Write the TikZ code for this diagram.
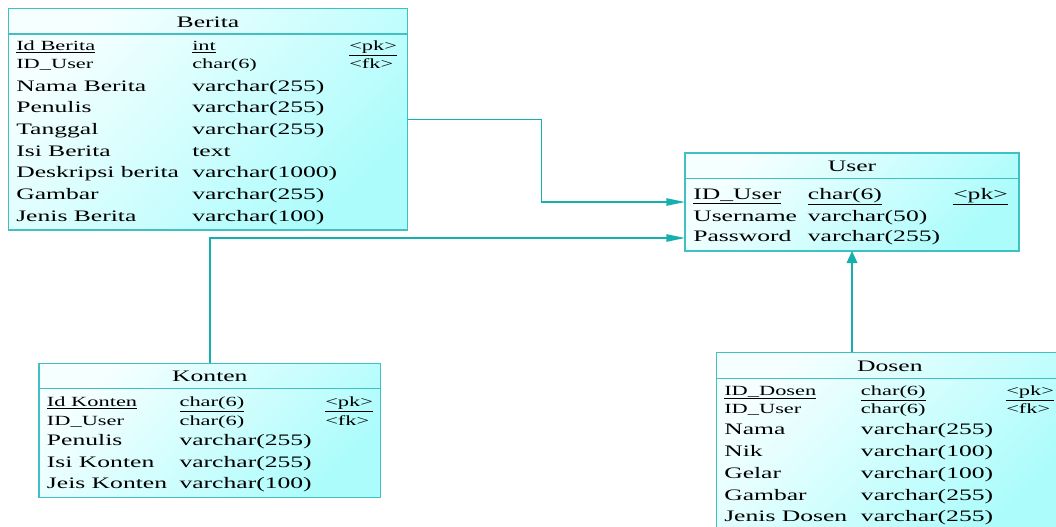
\documentclass[tikz,border=0pt]{standalone}
\usepackage{fontspec}
\setmainfont{Liberation Serif}[FakeStretch=1.6]
\usetikzlibrary{positioning,fit,calc,arrows.meta}
\definecolor{erline}{RGB}{20,176,176}
\definecolor{erbox}{RGB}{64,192,192}
\definecolor{erlight}{RGB}{246,255,255}
\definecolor{erdark}{RGB}{172,252,252}
\newlength\pxu \setlength\pxu{0.75pt}
\newcommand\field[5]{\makebox[#1\pxu][l]{#3}\makebox[#2\pxu][l]{#4}#5}
\tikzstyle{entity} = [draw=erbox, line width=1pt, top color=erlight, bottom color=erdark, shading angle=45, inner sep=0pt, outer sep=0pt]
\tikzstyle{etitle} = [anchor=base, inner sep=0pt, font=\fontsize{12}{14}\selectfont]
\tikzstyle{bigrow} = [anchor=base west, inner sep=0pt, font=\fontsize{12}{14}\selectfont]
\tikzstyle{keyrow} = [anchor=base west, inner sep=0pt, font=\fontsize{10.5}{12}\selectfont]
\tikzstyle{fk} = [draw=erline, line width=1pt, -{Triangle[length=14pt,width=5.5pt]}]
\begin{document}
\begin{tikzpicture}[x=0.75pt,y=-0.75pt]
		\useasboundingbox (0,0) rectangle (1056,526);
		\clip (0,0) rectangle (1056,526);
		% Berita
		\node (berita) [entity, fit={(8.5,8.5) (407.5,230)}] {};
		\draw [erbox, line width=1pt] ($(berita.north west)+(0,25.5)$) -- ($(berita.north east)+(0,25.5)$);
		\node (berita-t) [etitle] at ($(berita.north)+(0,18.5)$) {Berita};
		\node (berita-1) [keyrow] at (16,50) {\field{176}{157}{\underline{Id Berita}}{\underline{int}}{\underline{<pk>}}};
		\node (berita-2) [keyrow] at (16,68) {\field{176}{157}{ID\_User}{char(6)}{<fk>}};
		\node (berita-3) [bigrow] at (16,91) {\field{176}{157}{Nama Berita}{varchar(255)}{}};
		\node (berita-4) [bigrow] at (16,112.7) {\field{176}{157}{Penulis}{varchar(255)}{}};
		\node (berita-5) [bigrow] at (16,134.4) {\field{176}{157}{Tanggal}{varchar(255)}{}};
		\node (berita-6) [bigrow] at (16,156.1) {\field{176}{157}{Isi Berita}{text}{}};
		\node (berita-7) [bigrow] at (16,177.8) {\field{176}{157}{Deskripsi berita}{varchar(1000)}{}};
		\node (berita-8) [bigrow] at (16,199.5) {\field{176}{157}{Gambar}{varchar(255)}{}};
		\node (berita-9) [bigrow] at (16,221.2) {\field{176}{157}{Jenis Berita}{varchar(100)}{}};
		% User
		\node (user) [entity, fit={(685,153) (1019,251)}] {};
		\draw [erbox, line width=1pt] ($(user.north west)+(0,25.5)$) -- ($(user.north east)+(0,25.5)$);
		\node (user-t) [etitle] at ($(user.north)+(0,18.7)$) {User};
		\node (user-1) [bigrow] at (693,199.3) {\field{114.7}{145.3}{\underline{ID\_User}}{\underline{char(6)}}{\underline{<pk>}}};
		\node (user-2) [bigrow] at (693,221) {\field{114.7}{145.3}{Username}{varchar(50)}{}};
		\node (user-3) [bigrow] at (693,241.7) {\field{114.7}{145.3}{Password}{varchar(255)}{}};
		% Konten
		\node (konten) [entity, fit={(39,363.3) (380.7,497.7)}] {};
		\draw [erbox, line width=1pt] ($(konten.north west)+(0,25.5)$) -- ($(konten.north east)+(0,25.5)$);
		\node (konten-t) [etitle] at ($(konten.north)+(0,18.4)$) {Konten};
		\node (konten-1) [keyrow] at (46.7,406.7) {\field{132.6}{145.7}{\underline{Id Konten}}{\underline{char(6)}}{\underline{<pk>}}};
		\node (konten-2) [keyrow] at (46.7,425.2) {\field{132.6}{145.7}{ID\_User}{char(6)}{<fk>}};
		\node (konten-3) [bigrow] at (46.7,445.7) {\field{132.6}{145.7}{Penulis}{varchar(255)}{}};
		\node (konten-4) [bigrow] at (46.7,467.2) {\field{132.6}{145.7}{Isi Konten}{varchar(255)}{}};
		\node (konten-5) [bigrow] at (46.7,488.7) {\field{132.6}{145.7}{Jeis Konten}{varchar(100)}{}};
		% Dosen
		\node (dosen) [entity, fit={(716.7,352.3) (1063,532)}] {};
		\draw [erbox, line width=1pt] ($(dosen.north west)+(0,26.5)$) -- ($(dosen.north east)+(0,26.5)$);
		\node (dosen-t) [etitle] at ($(dosen.north)+(0,18.7)$) {Dosen};
		\node (dosen-1) [keyrow] at (724,395) {\field{136.7}{145.3}{\underline{ID\_Dosen}}{\underline{char(6)}}{\underline{<pk>}}};
		\node (dosen-2) [keyrow] at (724,413.3) {\field{136.7}{145.3}{ID\_User}{char(6)}{<fk>}};
		\node (dosen-3) [bigrow] at (724,434.3) {\field{136.7}{145.3}{Nama}{varchar(255)}{}};
		\node (dosen-4) [bigrow] at (724,456.7) {\field{136.7}{145.3}{Nik}{varchar(100)}{}};
		\node (dosen-5) [bigrow] at (724,478.3) {\field{136.7}{145.3}{Gelar}{varchar(100)}{}};
		\node (dosen-6) [bigrow] at (724,500) {\field{136.7}{145.3}{Gambar}{varchar(255)}{}};
		\node (dosen-7) [bigrow] at (724,521.7) {\field{136.7}{145.3}{Jenis Dosen}{varchar(255)}{}};
		
		\draw [fk] (berita.east) -- ++(134,0) |- (user.west);
		\draw [fk] (konten.north) |- ($(user.south west)+(0,-13)$);
		\draw [fk, -{Triangle[length=9pt,width=8pt]}] (dosen.north -| user.south) -- (user.south);
	\end{tikzpicture}
\end{document}
